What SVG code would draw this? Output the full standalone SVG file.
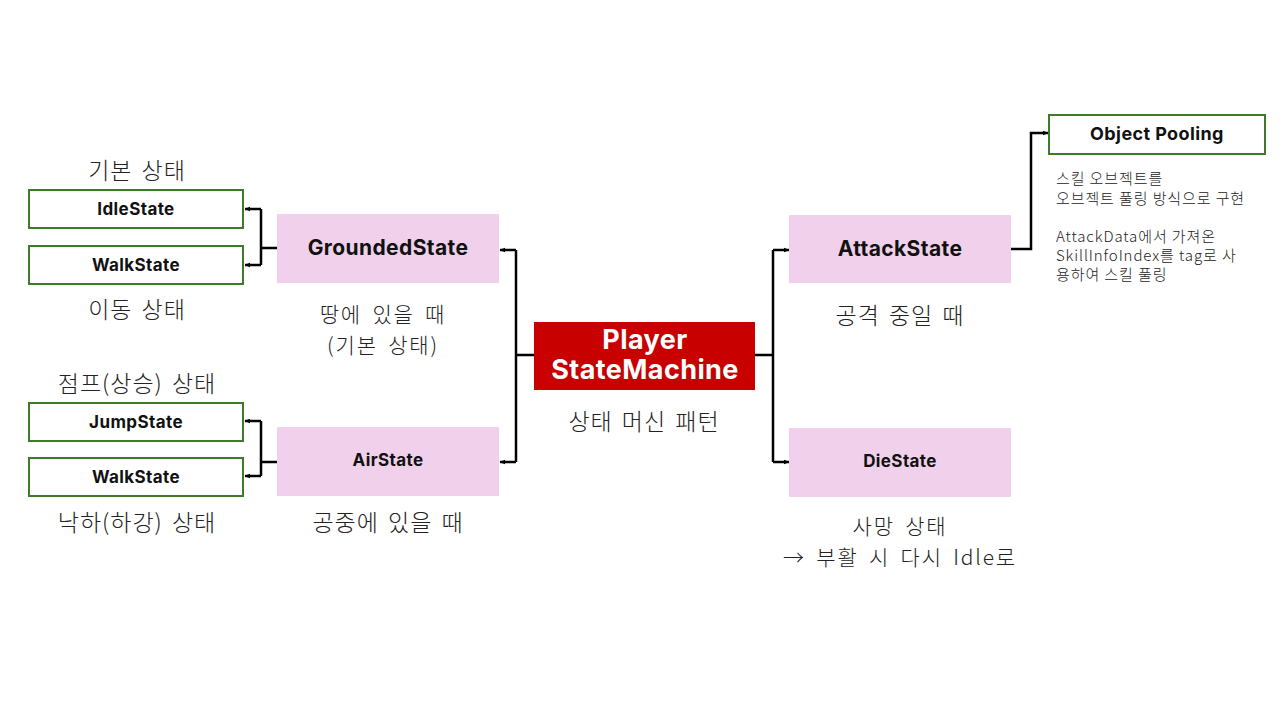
<svg xmlns="http://www.w3.org/2000/svg" width="1280" height="720" viewBox="0 0 1280 720">
<defs>
<marker id="ah" viewBox="0 0 10 10" refX="9" refY="5" markerWidth="6" markerHeight="6" orient="auto" markerUnits="userSpaceOnUse">
<path d="M0,1 L10,5 L0,9 z" fill="#000"/>
</marker>
<style>
.green{fill:#fff;stroke:#3f7a2a;stroke-width:2}
.pink{fill:#f0d0ea}
.lbl{font-family:Inter,"Noto Sans CJK KR",sans-serif;font-weight:700;fill:#111;text-anchor:middle;letter-spacing:0.4px}
.kr{font-family:"Noto Sans CJK KR",sans-serif;font-weight:300;fill:#222;text-anchor:middle;font-size:23px;word-spacing:3px;letter-spacing:1px}
.kr2{font-family:"Noto Sans CJK KR",sans-serif;font-weight:300;fill:#222;text-anchor:middle;font-size:21px;word-spacing:4px;letter-spacing:1.8px}
.sm{font-family:"Noto Sans CJK KR",sans-serif;font-weight:300;fill:#222;font-size:15px;letter-spacing:0.9px}
.con{fill:none;stroke:#000;stroke-width:2.5}
</style>
</defs>
<rect width="1280" height="720" fill="#fff"/>
<g id="connectors">
<path class="con" d="M277,248 H261 M261,209 V265"/>
<path class="con" d="M261,209 H245" marker-end="url(#ah)"/>
<path class="con" d="M261,265 H245" marker-end="url(#ah)"/>
<path class="con" d="M277,462 H261 M261,421 V476"/>
<path class="con" d="M261,421 H245" marker-end="url(#ah)"/>
<path class="con" d="M261,476 H245" marker-end="url(#ah)"/>
<path class="con" d="M534,355 H516 M516,250 V462"/>
<path class="con" d="M516,250 H500" marker-end="url(#ah)"/>
<path class="con" d="M516,462 H500" marker-end="url(#ah)"/>
<path class="con" d="M755,355 H773 M773,250 V462"/>
<path class="con" d="M773,250 H789" marker-end="url(#ah)"/>
<path class="con" d="M773,462 H789" marker-end="url(#ah)"/>
<path class="con" d="M1011,249 H1031 V133 H1048" marker-end="url(#ah)"/>
</g>
<g id="idle"><rect class="green" x="29" y="190" width="214" height="38"/><text class="lbl" x="136" y="215" font-size="17">IdleState</text></g>
<g id="walk1"><rect class="green" x="29" y="246" width="214" height="38"/><text class="lbl" x="136" y="271" font-size="17">WalkState</text></g>
<g id="jump"><rect class="green" x="29" y="403" width="214" height="38"/><text class="lbl" x="136" y="428" font-size="17">JumpState</text></g>
<g id="walk2"><rect class="green" x="29" y="458" width="214" height="38"/><text class="lbl" x="136" y="483" font-size="17">WalkState</text></g>
<g id="grounded"><rect class="pink" x="277" y="214" width="222" height="69"/><text class="lbl" x="388" y="255" font-size="21">GroundedState</text></g>
<g id="air"><rect class="pink" x="277" y="427" width="222" height="69"/><text class="lbl" x="388" y="466" font-size="17">AirState</text></g>
<g id="player"><rect fill="#c80000" x="534" y="322" width="221" height="68"/><text class="lbl" x="645" y="349" font-size="27" style="fill:#fff">Player</text><text class="lbl" x="645" y="379" font-size="27" style="fill:#fff">StateMachine</text></g>
<g id="attack"><rect class="pink" x="789" y="215" width="222" height="68"/><text class="lbl" x="900" y="256" font-size="21">AttackState</text></g>
<g id="die"><rect class="pink" x="789" y="428" width="222" height="69"/><text class="lbl" x="900" y="467" font-size="17">DieState</text></g>
<g id="pooling"><rect class="green" x="1049" y="115" width="216" height="39"/><text class="lbl" x="1157" y="140" font-size="18">Object Pooling</text></g>
<g id="labels">
<text class="kr" x="137" y="179">기본 상태</text>
<text class="kr" x="137" y="318">이동 상태</text>
<text class="kr2" x="383" y="322">땅에 있을 때</text>
<text class="kr2" x="383" y="353">(기본 상태)</text>
<text class="kr" x="137" y="392">점프(상승) 상태</text>
<text class="kr" x="137" y="531">낙하(하강) 상태</text>
<text class="kr" x="388" y="531">공중에 있을 때</text>
<text class="kr" x="644" y="430">상태 머신 패턴</text>
<text class="kr" x="900" y="324">공격 중일 때</text>
<text class="kr2" x="900" y="534">사망 상태</text>
<text class="kr2" x="900" y="565">→ 부활 시 다시 Idle로</text>
<text class="sm" x="1056" y="184">스킬 오브젝트를</text>
<text class="sm" x="1056" y="204">오브젝트 풀링 방식으로 구현</text>
<text class="sm" x="1056" y="242">AttackData에서 가져온</text>
<text class="sm" x="1056" y="261">SkillInfoIndex를 tag로 사</text>
<text class="sm" x="1056" y="280">용하여 스킬 풀링</text>
</g>
</svg>
